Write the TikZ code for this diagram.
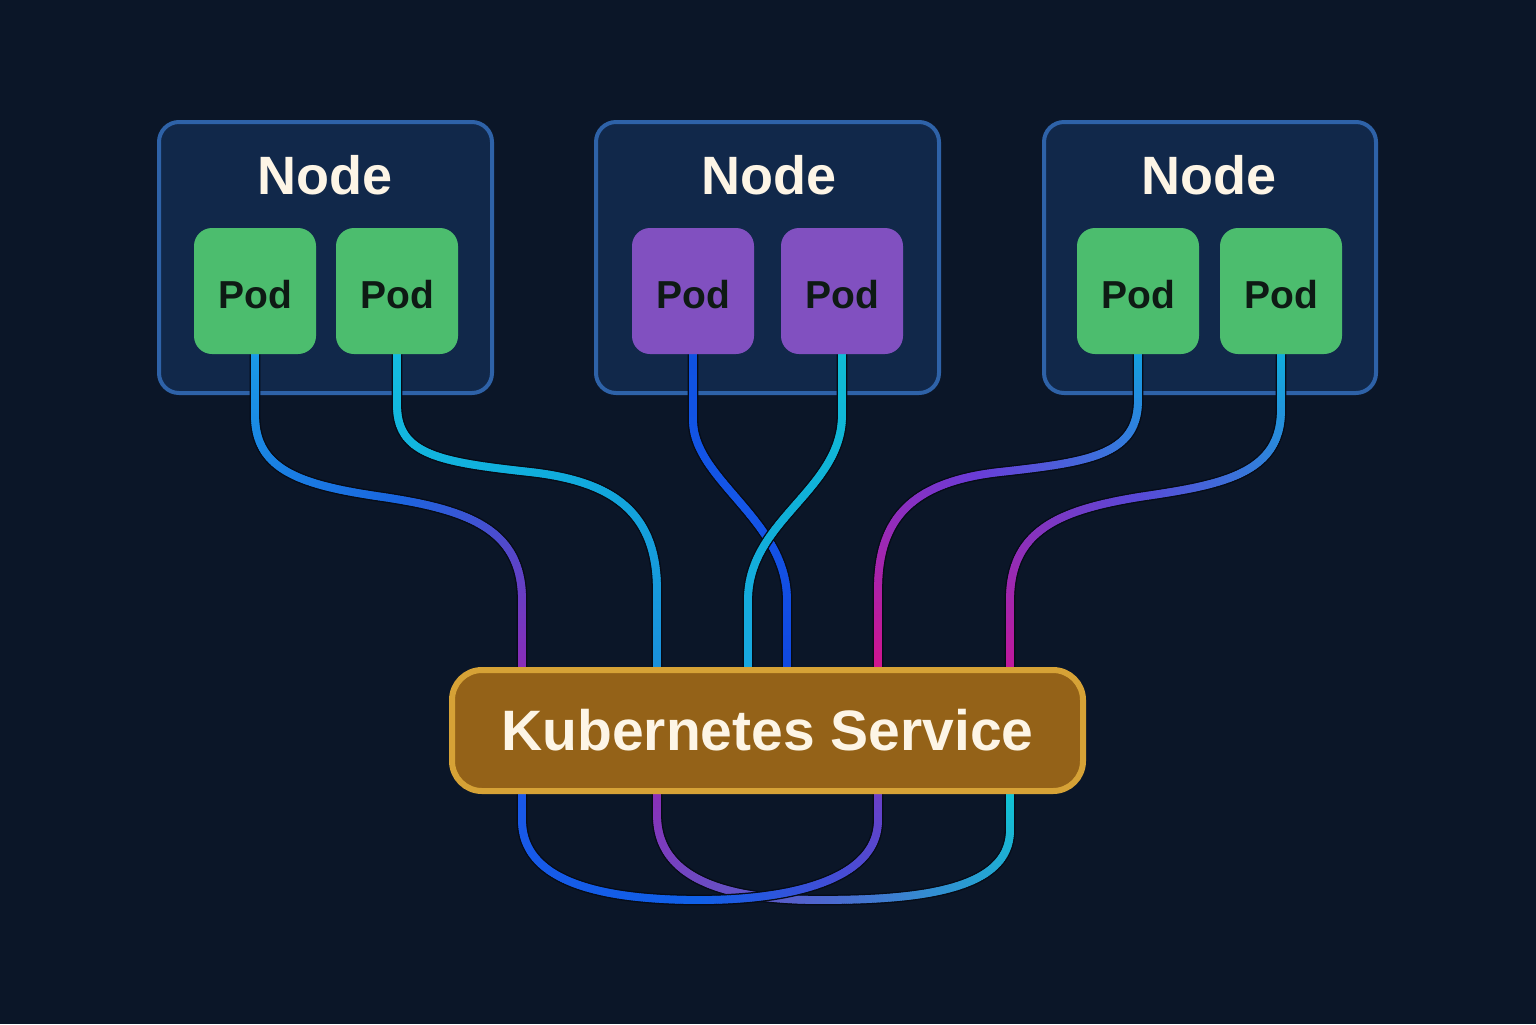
\documentclass[tikz,border=0pt]{standalone}
\usepackage{fontspec}
\setmainfont{Liberation Sans}
\usetikzlibrary{decorations.markings}
\pgfdeclarelayer{boxes}
\pgfdeclarelayer{wires}
\pgfsetlayers{boxes,wires,main}
\definecolor{bg}{HTML}{0B1628}
\definecolor{nodefill}{HTML}{11284A}
\definecolor{nodeborder}{HTML}{2E62A8}
\definecolor{podgreen}{HTML}{4CBD6E}
\definecolor{podpurple}{HTML}{8150C0}
\definecolor{svcfill}{HTML}{946218}
\definecolor{svcborder}{HTML}{D6A236}
\definecolor{cream}{HTML}{FDF5E6}
\definecolor{podtext}{HTML}{0E1A14}
\definecolor{wireedge}{HTML}{060C18}
% wire gradient stops
\definecolor{wAa}{HTML}{1A9AE6}\definecolor{wAb}{HTML}{1A66E0}\definecolor{wAc}{HTML}{8A2CB8}
\definecolor{wBa}{HTML}{14BCE0}\definecolor{wBb}{HTML}{10ACDC}\definecolor{wBc}{HTML}{1A90DC}
\definecolor{wCa}{HTML}{0F52E2}\definecolor{wCb}{HTML}{1556E8}\definecolor{wCc}{HTML}{1048E0}
\definecolor{wDa}{HTML}{10BCD6}\definecolor{wDb}{HTML}{10B0D8}\definecolor{wDc}{HTML}{18A8E0}
\definecolor{wEa}{HTML}{14A0E0}\definecolor{wEb}{HTML}{6A3CD8}\definecolor{wEc}{HTML}{D0148F}
\definecolor{wFa}{HTML}{10ACDC}\definecolor{wFb}{HTML}{5A48D8}\definecolor{wFc}{HTML}{C0189C}
\definecolor{wGa}{HTML}{1A58E8}\definecolor{wGb}{HTML}{1060E8}\definecolor{wGc}{HTML}{6A40C8}
\definecolor{wHa}{HTML}{8A30B8}\definecolor{wHb}{HTML}{4A6AD0}\definecolor{wHc}{HTML}{10C4D4}
\newcommand\wiregradseg[3]{%
  \pgfmathsetmacro\wgt{\pgfkeysvalueof{/pgf/decoration/mark info/distance from start}/\pgfdecoratedpathlength}%
  \ifdim\wgt pt<0.5pt
    \pgfmathsetmacro\wgp{max(0,min(100,100*(1-2*\wgt)))}%
    \colorlet{wseg}{#1!\wgp!#2}%
  \else
    \pgfmathsetmacro\wgp{max(0,min(100,100*(2-2*\wgt)))}%
    \colorlet{wseg}{#2!\wgp!#3}%
  \fi
  \draw[line width=3.9pt, draw=wseg, line cap=butt] (-0.9pt,0) -- (0.9pt,0);%
}
\begin{document}
\begin{tikzpicture}[x=0.5pt,y=-0.5pt,
  nodebox/.style={draw=nodeborder, fill=nodefill, line width=2pt, rounded corners=10pt, minimum height=135.5pt, inner sep=0pt},
  nodetitle/.style={text=cream, font=\bfseries\fontsize{27}{30}\selectfont, anchor=base, inner sep=0pt},
  pod/.style={fill=#1, rounded corners=9pt, minimum width=61pt, minimum height=63pt, inner sep=0pt, text=podtext, font=\bfseries\fontsize{19.5}{22}\selectfont},
  podlabel/.style={text=podtext, font=\bfseries\fontsize{19.5}{22}\selectfont, anchor=base, inner sep=0pt},
  svcbox/.style={draw=svcborder, fill=svcfill, line width=3pt, rounded corners=15pt, minimum width=315.5pt, minimum height=60.5pt, inner sep=0pt, text=cream, font=\bfseries\fontsize{28.5}{32}\selectfont},
  wire/.style n args={3}{draw=wireedge, line width=5.4pt, postaction={decorate, decoration={markings, mark=between positions 0 and 1 step 1pt with {\wiregradseg{#1}{#2}{#3}}}}}
]
\begin{pgfonlayer}{boxes}
\fill[bg] (0,0) rectangle (1536,1024);
% worker nodes
\node[nodebox, minimum width=166.5pt] (n1) at (325.5,257.5) {};
\node[nodebox, minimum width=171.5pt] (n2) at (767.5,257.5) {};
\node[nodebox, minimum width=166pt] (n3) at (1210,257.5) {};
\end{pgfonlayer}
\useasboundingbox (0,0) rectangle (1536,1024);

\node[nodetitle] (t1) at (325,194) {Node};
\node[nodetitle] (t2) at (769,194) {Node};
\node[nodetitle] (t3) at (1209,194) {Node};

% pods
\node[pod=podgreen] (p1) at (255,291) {};
\node[pod=podgreen] (p2) at (397,291) {};
\node[pod=podpurple] (p3) at (693,291) {};
\node[pod=podpurple] (p4) at (842,291) {};
\node[pod=podgreen] (p5) at (1138,291) {};
\node[pod=podgreen] (p6) at (1281,291) {};
\foreach \p in {p1,p2,p3,p4,p5,p6}{
  \node[podlabel] (\p-label) at ([yshift=-8.5pt]\p.center) {Pod};
}

% service
\node[svcbox] (svc) at (767.5,730.5) {Kubernetes Service};

% x positions of the service ports
\coordinate (x1) at (522,0);
\coordinate (x2) at (657,0);
\coordinate (x3) at (748,0);
\coordinate (x4) at (787,0);
\coordinate (x5) at (878,0);
\coordinate (x6) at (1010,0);

\begin{pgfonlayer}{wires}
% wires pod -> service
\draw[wire={wAa}{wAb}{wAc}] (p1.south) -- (255,415) .. controls (255,470) and (300,485) .. (383,497) .. controls (470,510) and (522,530) .. (522,600) -- (x1 |- svc.north);
\draw[wire={wBa}{wBb}{wBc}] (p2.south) -- (397,405) .. controls (397,455) and (440,462) .. (530,472) .. controls (610,481) and (657,510) .. (657,590) -- (x2 |- svc.north);
\draw[wire={wCa}{wCb}{wCc}] (p3.south) -- (693,420) .. controls (693,480) and (787,520) .. (787,600) -- (x4 |- svc.north);
\draw[wire={wDa}{wDb}{wDc}] (p4.south) -- (842,415) .. controls (842,490) and (748,520) .. (748,600) -- (x3 |- svc.north);
\draw[wire={wEa}{wEb}{wEc}] (p5.south) -- (1138,400) .. controls (1138,455) and (1090,462) .. (1000,472) .. controls (910,482) and (878,520) .. (878,590) -- (x5 |- svc.north);
\draw[wire={wFa}{wFb}{wFc}] (p6.south) -- (1281,410) .. controls (1281,475) and (1220,485) .. (1139,497) .. controls (1060,510) and (1010,530) .. (1010,600) -- (x6 |- svc.north);
% loops under the service
\draw[wire={wHa}{wHb}{wHc}] (x2 |- svc.south) -- (657,815) .. controls (657,885) and (740,900) .. (820,900) .. controls (920,900) and (1010,890) .. (1010,830) -- (x6 |- svc.south);
\draw[wire={wGa}{wGb}{wGc}] (x1 |- svc.south) -- (522,820) .. controls (522,885) and (610,900) .. (700,900) .. controls (790,900) and (878,880) .. (878,820) -- (x5 |- svc.south);
\end{pgfonlayer}
\end{tikzpicture}
\end{document}
